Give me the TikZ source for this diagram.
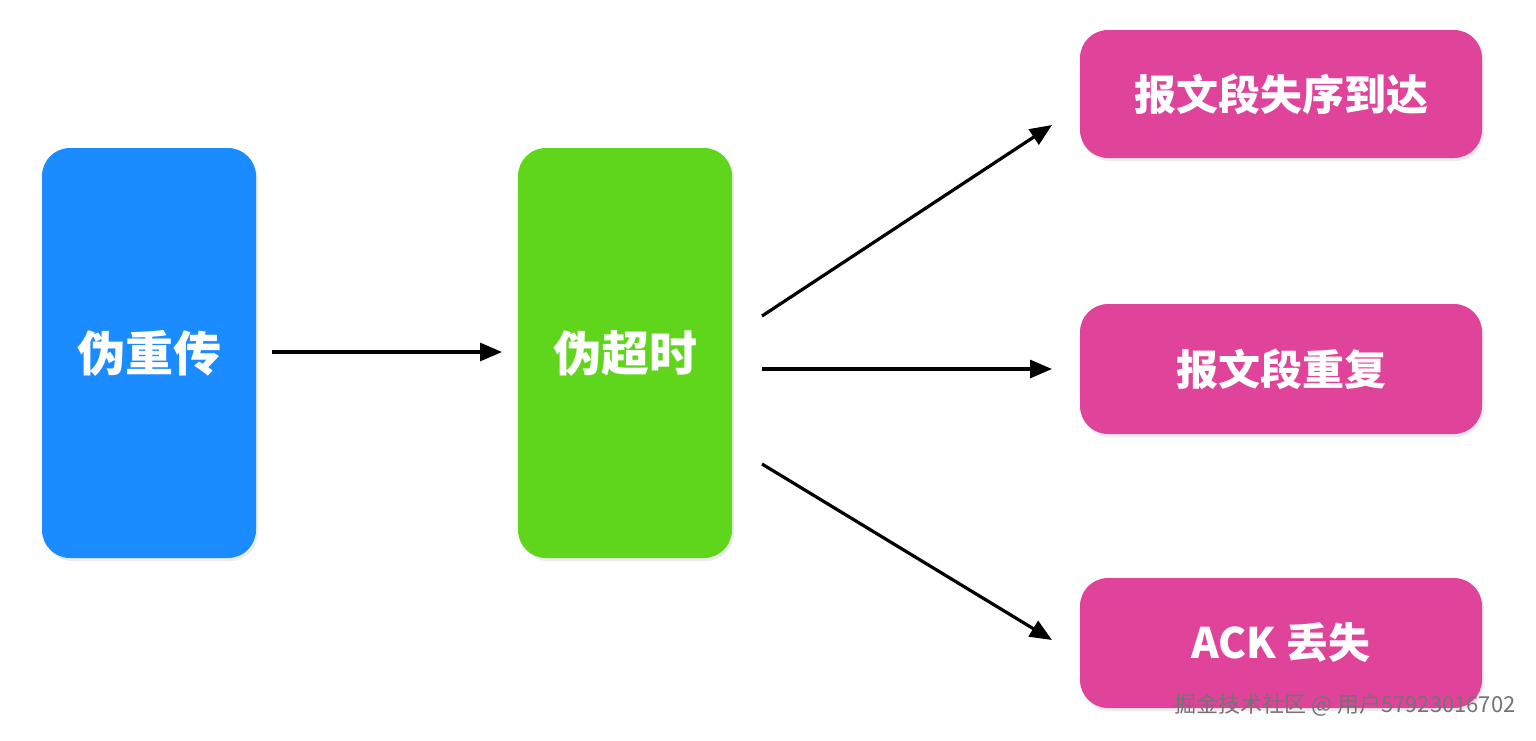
\documentclass[tikz,border=0pt]{standalone}
\usepackage{fontspec}
\newfontfamily\cjk{Noto Sans CJK SC}
\usetikzlibrary{arrows.meta,shadows}
\definecolor{cblue}{HTML}{1A8CFF}
\definecolor{cgreen}{HTML}{5FD61C}
\definecolor{cpink}{HTML}{E0449A}
\tikzset{
  box/.style={rounded corners=14pt,text=white,font=\cjk\bfseries,drop shadow={shadow xshift=1pt,shadow yshift=-1.5pt,opacity=0.15}},
  arr/.style={-{Triangle[length=11pt,width=9pt]},line width=1.6pt}
}
\begin{document}
\begin{tikzpicture}[x=0.5pt,y=-0.5pt]
\useasboundingbox[fill=white] (0,0) rectangle (1536,740);
\node[box,fill=cblue,minimum width=107pt,minimum height=205pt,font=\cjk\bfseries\fontsize{24}{28}\selectfont] (a) at (149,353) {伪重传};
\node[box,fill=cgreen,minimum width=107pt,minimum height=205pt,font=\cjk\bfseries\fontsize{24}{28}\selectfont] (b) at (625,353) {伪超时};
\node[box,fill=cpink,minimum width=201pt,minimum height=64pt,font=\cjk\bfseries\fontsize{21}{25}\selectfont] (c1) at (1281,94) {报文段失序到达};
\node[box,fill=cpink,minimum width=201pt,minimum height=65pt,font=\cjk\bfseries\fontsize{21}{25}\selectfont] (c2) at (1281,369) {报文段重复};
\node[box,fill=cpink,minimum width=201pt,minimum height=65pt,font=\cjk\bfseries\fontsize{21}{25}\selectfont] (c3) at (1281,643) {ACK 丢失};
\coordinate (s1) at (762,316); \coordinate (e1) at (1052,125);
\coordinate (s2) at (762,369); \coordinate (e2) at (1052,369);
\coordinate (s3) at (762,464); \coordinate (e3) at (1052,640);
\coordinate (a0) at (272,352); \coordinate (b0) at (502,352);
\draw[arr] (a0) -- (b0);
\draw[arr] (s1) -- (e1);
\draw[arr] (s2) -- (e2);
\draw[arr] (s3) -- (e3);
\node[anchor=east,text=black!55,font=\cjk\fontsize{11}{13}\selectfont,inner sep=0pt] (w) at (1516,705) {掘金技术社区 @ 用户57923016702};
\end{tikzpicture}
\end{document}
